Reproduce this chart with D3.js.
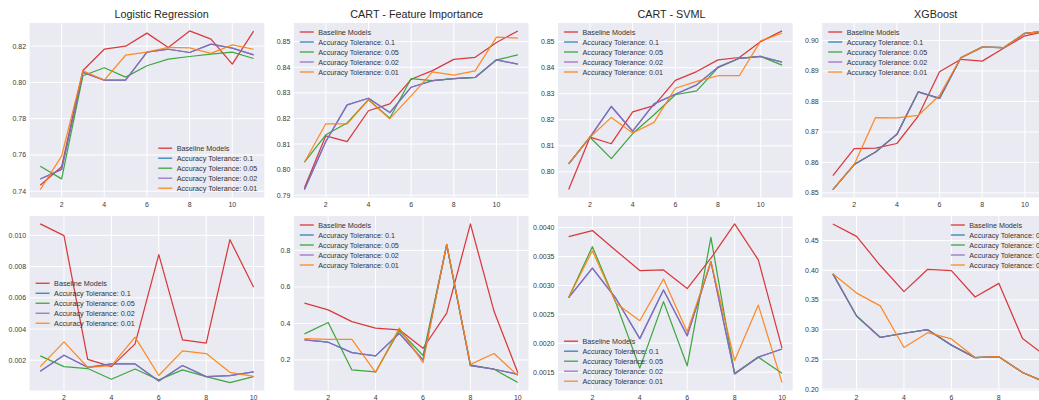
<!DOCTYPE html>
<html>
<head>
<meta charset="utf-8">
<script src="https://cdn.jsdelivr.net/npm/d3@7/dist/d3.min.js"></script>
<style>
    body { margin: 0; background: #fff; }
    svg { display: block; font-family: "Liberation Sans", Arial, sans-serif; }
    .plot-bg { fill: #eaeaf2; }
    .grid line { stroke: #fff; stroke-width: 1; }
    .tick-label { font-size: 7px; fill: #3a3a3a; }
    .panel-title { font-size: 10.8px; fill: #262626; }
    .legend text { font-size: 7.2px; fill: #333; }
    .series { fill: none; stroke-width: 1.25; stroke-opacity: 0.9; stroke-linejoin: round; }
</style>
</head>
<body>
<div id="chart"></div>
<script>
(function () {
    "use strict";

    const seriesNames = ["Baseline Models", "Accuracy Tolerance: 0.1", "Accuracy Tolerance: 0.05",
        "Accuracy Tolerance: 0.02", "Accuracy Tolerance: 0.01"];
    const seriesColors = ["#d62728", "#1f77b4", "#2ca02c", "#9467bd", "#ff7f0e"];

    const xTop = [1, 2, 3, 4, 5, 6, 7, 8, 9, 10, 11];
    const xBottom = [1, 2, 3, 4, 5, 6, 7, 8, 9, 10];
    const xTicks = [2, 4, 6, 8, 10];

    // top row, one array per series in the order of seriesNames
    const logRegScore = [
        [0.7433, 0.7535, 0.8066, 0.8183, 0.8200, 0.8272, 0.8193, 0.8284, 0.8239, 0.8101, 0.8283],
        [0.7467, 0.7520, 0.8055, 0.8013, 0.8013, 0.8167, 0.8183, 0.8165, 0.8211, 0.8189, 0.8152],
        [0.7538, 0.7468, 0.8037, 0.8081, 0.8029, 0.8092, 0.8128, 0.8143, 0.8156, 0.8167, 0.8132],
        [0.7467, 0.7520, 0.8055, 0.8013, 0.8013, 0.8167, 0.8183, 0.8165, 0.8211, 0.8189, 0.8152],
        [0.7409, 0.7593, 0.8064, 0.8013, 0.8150, 0.8167, 0.8193, 0.8191, 0.8160, 0.8207, 0.8183]
    ];
    const cartFiScore = [
        [0.7929, 0.8132, 0.8109, 0.8230, 0.8257, 0.8353, 0.8387, 0.8431, 0.8439, 0.8497, 0.8542],
        [0.7922, 0.8110, 0.8253, 0.8279, 0.8223, 0.8322, 0.8348, 0.8356, 0.8360, 0.8429, 0.8412],
        [0.8029, 0.8136, 0.8182, 0.8273, 0.8201, 0.8356, 0.8348, 0.8356, 0.8360, 0.8429, 0.8448],
        [0.7922, 0.8110, 0.8253, 0.8279, 0.8223, 0.8322, 0.8348, 0.8356, 0.8360, 0.8429, 0.8412],
        [0.8029, 0.8179, 0.8179, 0.8273, 0.8199, 0.8288, 0.8382, 0.8369, 0.8386, 0.8518, 0.8514]
    ];
    const cartSvmlScore = [
        [0.7932, 0.8133, 0.8108, 0.8230, 0.8254, 0.8351, 0.8385, 0.8430, 0.8439, 0.8500, 0.8541],
        [0.8031, 0.8133, 0.8251, 0.8156, 0.8261, 0.8298, 0.8334, 0.8402, 0.8436, 0.8443, 0.8421],
        [0.8031, 0.8133, 0.8051, 0.8147, 0.8219, 0.8296, 0.8311, 0.8400, 0.8436, 0.8443, 0.8410],
        [0.8031, 0.8133, 0.8251, 0.8156, 0.8261, 0.8298, 0.8334, 0.8402, 0.8436, 0.8443, 0.8421],
        [0.8031, 0.8133, 0.8209, 0.8149, 0.8190, 0.8321, 0.8347, 0.8369, 0.8369, 0.8503, 0.8532]
    ];
    const xgbScore = [
        [0.8557, 0.8645, 0.8647, 0.8662, 0.8752, 0.8897, 0.8938, 0.8932, 0.8974, 0.9015, 0.9030],
        [0.8511, 0.8593, 0.8634, 0.8692, 0.8831, 0.8810, 0.8943, 0.8978, 0.8976, 0.9023, 0.9031],
        [0.8511, 0.8593, 0.8634, 0.8692, 0.8831, 0.8810, 0.8943, 0.8978, 0.8976, 0.9023, 0.9031],
        [0.8511, 0.8593, 0.8634, 0.8692, 0.8831, 0.8810, 0.8943, 0.8978, 0.8976, 0.9023, 0.9031],
        [0.8511, 0.8593, 0.8747, 0.8746, 0.8754, 0.8820, 0.8943, 0.8978, 0.8976, 0.9023, 0.9031]
    ];

    // bottom row
    const logRegSpread = [
        [0.01073, 0.00998, 0.00206, 0.00159, 0.00305, 0.00876, 0.00330, 0.00309, 0.00972, 0.00668],
        [0.00129, 0.00232, 0.00155, 0.00176, 0.00176, 0.00067, 0.00166, 0.00095, 0.00102, 0.00125],
        [0.00228, 0.00159, 0.00147, 0.00078, 0.00144, 0.00074, 0.00138, 0.00095, 0.00057, 0.00095],
        [0.00129, 0.00232, 0.00155, 0.00176, 0.00176, 0.00067, 0.00166, 0.00095, 0.00102, 0.00125],
        [0.00159, 0.00318, 0.00155, 0.00166, 0.00348, 0.00102, 0.00260, 0.00243, 0.00123, 0.00097]
    ];
    const cartFiSpread = [
        [0.511, 0.474, 0.410, 0.374, 0.365, 0.264, 0.456, 0.945, 0.465, 0.130],
        [0.310, 0.297, 0.240, 0.222, 0.346, 0.200, 0.831, 0.169, 0.149, 0.121],
        [0.343, 0.405, 0.145, 0.134, 0.361, 0.224, 0.831, 0.173, 0.149, 0.076],
        [0.310, 0.297, 0.240, 0.222, 0.346, 0.200, 0.831, 0.169, 0.149, 0.121],
        [0.317, 0.313, 0.313, 0.132, 0.374, 0.185, 0.835, 0.176, 0.235, 0.114]
    ];
    const cartSvmlSpread = [
        [0.003844, 0.003948, 0.003600, 0.003257, 0.003268, 0.002946, 0.003470, 0.004063, 0.003441, 0.001915],
        [0.00279, 0.00330, 0.00277, 0.00208, 0.00292, 0.00213, 0.00341, 0.00147, 0.00176, 0.00190],
        [0.00279, 0.00367, 0.00269, 0.00157, 0.00272, 0.00161, 0.00383, 0.00148, 0.00176, 0.00148],
        [0.00279, 0.00330, 0.00277, 0.00208, 0.00292, 0.00213, 0.00341, 0.00147, 0.00176, 0.00190],
        [0.00279, 0.00360, 0.00269, 0.00239, 0.00311, 0.00220, 0.00341, 0.00170, 0.00266, 0.00132]
    ];
    const xgbSpread = [
        [0.478, 0.457, 0.408, 0.364, 0.4016, 0.3993, 0.355, 0.378, 0.285, 0.255],
        [0.394, 0.323, 0.287, 0.294, 0.300, 0.274, 0.253, 0.2546, 0.228, 0.211],
        [0.394, 0.323, 0.287, 0.294, 0.300, 0.274, 0.253, 0.2546, 0.228, 0.211],
        [0.394, 0.323, 0.287, 0.294, 0.300, 0.274, 0.253, 0.2546, 0.228, 0.211],
        [0.394, 0.3616, 0.340, 0.270, 0.295, 0.2845, 0.253, 0.2546, 0.228, 0.211]
    ];

    const width = 1039;
    const height = 400;

    const colLeft = [29.6, 293.8, 558.0, 822.2];
    const plotWidth = 234.7;
    const rowTop = [23, 216];
    const plotHeight = 174.5;

    const panels = [
        { title: "Logistic Regression", titleX: 161.6, row: 0, col: 0, x: xTop, values: logRegScore,
          yTicks: [0.74, 0.76, 0.78, 0.80, 0.82], fmt: ".2f", legend: "lower right" },
        { title: "CART - Feature Importance", titleX: 416.7, row: 0, col: 1, x: xTop, values: cartFiScore,
          yTicks: [0.79, 0.80, 0.81, 0.82, 0.83, 0.84, 0.85], fmt: ".2f", legend: "upper left" },
        { title: "CART - SVML", titleX: 671.5, row: 0, col: 2, x: xTop, values: cartSvmlScore,
          yTicks: [0.80, 0.81, 0.82, 0.83, 0.84, 0.85], fmt: ".2f", legend: "upper left" },
        { title: "XGBoost", titleX: 935.7, row: 0, col: 3, x: xTop, values: xgbScore,
          yTicks: [0.85, 0.86, 0.87, 0.88, 0.89, 0.90], fmt: ".2f", legend: "upper left" },
        { row: 1, col: 0, x: xBottom, values: logRegSpread,
          yTicks: [0.002, 0.004, 0.006, 0.008, 0.010], fmt: ".3f", legend: "center left" },
        { row: 1, col: 1, x: xBottom, values: cartFiSpread,
          yTicks: [0.2, 0.4, 0.6, 0.8], fmt: ".1f", legend: "upper left" },
        { row: 1, col: 2, x: xBottom, values: cartSvmlSpread,
          yTicks: [0.0015, 0.0020, 0.0025, 0.0030, 0.0035, 0.0040], fmt: ".4f", legend: "lower left" },
        { row: 1, col: 3, x: xBottom, values: xgbSpread,
          yTicks: [0.20, 0.25, 0.30, 0.35, 0.40, 0.45], fmt: ".2f", legend: "upper right" }
    ];

    const svg = d3.select("#chart")
        .append("svg")
        .attr("width", width)
        .attr("height", height);

    // matplotlib style 5% margins around the data range
    function paddedDomain(lo, hi) {
        const pad = (hi - lo) * 0.05;
        return [lo - pad, hi + pad];
    }

    panels.forEach((p) => {
        const left = colLeft[p.col];
        const top = rowTop[p.row];
        const all = p.values.flat();

        const x = d3.scaleLinear()
            .domain(paddedDomain(d3.min(p.x), d3.max(p.x)))
            .range([left, left + plotWidth]);
        const y = d3.scaleLinear()
            .domain(paddedDomain(d3.min(all), d3.max(all)))
            .range([top + plotHeight, top]);

        const g = svg.append("g");
        const clipId = `clip-${p.row}-${p.col}`;
        g.append("clipPath").attr("id", clipId)
            .append("rect")
            .attr("x", left).attr("y", top)
            .attr("width", plotWidth).attr("height", plotHeight);

        g.append("rect")
            .attr("class", "plot-bg")
            .attr("x", left).attr("y", top)
            .attr("width", plotWidth).attr("height", plotHeight);

        const grid = g.append("g").attr("class", "grid");
        grid.selectAll(".gx")
            .data(xTicks)
            .join("line")
            .attr("x1", (d) => x(d)).attr("x2", (d) => x(d))
            .attr("y1", top).attr("y2", top + plotHeight);
        grid.selectAll(".gy")
            .data(p.yTicks)
            .join("line")
            .attr("x1", left).attr("x2", left + plotWidth)
            .attr("y1", (d) => y(d)).attr("y2", (d) => y(d));

        g.append("g").selectAll("text")
            .data(xTicks)
            .join("text")
            .attr("class", "tick-label")
            .attr("text-anchor", "middle")
            .attr("x", (d) => x(d))
            .attr("y", top + plotHeight + 9)
            .text((d) => d);

        const fmt = d3.format(p.fmt);
        g.append("g").selectAll("text")
            .data(p.yTicks)
            .join("text")
            .attr("class", "tick-label")
            .attr("text-anchor", "end")
            .attr("dominant-baseline", "central")
            .attr("x", left - 3.5)
            .attr("y", (d) => y(d))
            .text((d) => fmt(d));

        const line = d3.line()
            .x((d, i) => x(p.x[i]))
            .y((d) => y(d));

        g.append("g")
            .attr("clip-path", `url(#${clipId})`)
            .selectAll("path")
            .data(p.values)
            .join("path")
            .attr("class", "series")
            .attr("stroke", (d, i) => seriesColors[i])
            .attr("d", line);

        if (p.title) {
            svg.append("text")
                .attr("class", "panel-title")
                .attr("text-anchor", "middle")
                .attr("x", p.titleX)
                .attr("y", top - 5.5)
                .text(p.title);
        }

        // legend, no frame as in seaborn darkgrid
        const rowGap = 10;
        const legend = g.append("g").attr("class", "legend");
        seriesNames.forEach((name, i) => {
            legend.append("line")
                .attr("x1", 0).attr("x2", 14)
                .attr("y1", i * rowGap).attr("y2", i * rowGap)
                .attr("stroke", seriesColors[i])
                .attr("stroke-width", 1.3)
                .attr("stroke-opacity", 0.9);
            legend.append("text")
                .attr("x", 18.5)
                .attr("y", i * rowGap)
                .attr("dominant-baseline", "central")
                .text(name);
        });
        const box = legend.node().getBBox();
        const span = (seriesNames.length - 1) * rowGap;
        let lx = left + 6;
        let ly = top + 9;
        if (p.legend.includes("right")) lx = left + plotWidth - 7 - box.width;
        if (p.legend.includes("lower")) ly = top + plotHeight - 9.3 - span;
        if (p.legend.includes("center")) ly = top + plotHeight / 2 - span / 2;
        legend.attr("transform", `translate(${lx},${ly})`);
    });
}());
</script>
</body>
</html>
